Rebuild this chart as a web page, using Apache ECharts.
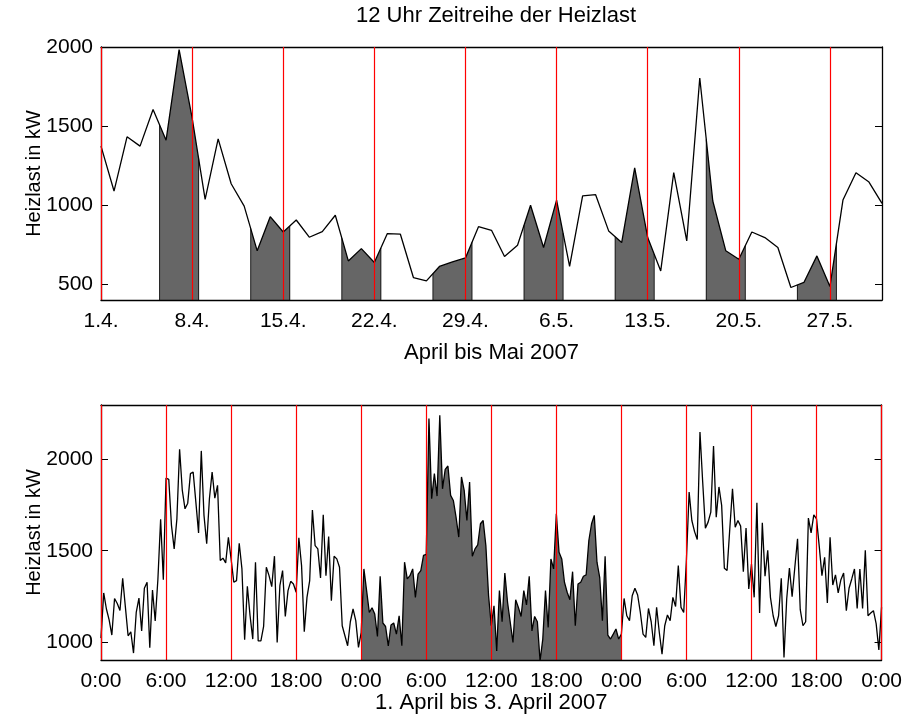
<!DOCTYPE html>
<html><head><meta charset="utf-8">
<script src="https://cdn.jsdelivr.net/npm/echarts@6/dist/echarts.min.js"></script>
<style>html,body{margin:0;padding:0;background:#fff}#c{width:905px;height:719px}</style>
</head><body><div id="c"></div>
<script>
// ---- data: top panel (daily value at 12:00, 1.4. - 31.5.2007) ----
const topTickLabels = ["1.4.","8.4.","15.4.","22.4.","29.4.","6.5.","13.5.","20.5.","27.5."];
const topValues = [1373,1089,1432,1373,1605,1411,1983,1552,1037,1419,1135,994,711,927,830,906,797,833,936,647,
  725,637,820,816,542,521,612,641,666,864,841,675,746,999,732,1032,612,1058,1066,837,
  763,1236,795,584,1205,774,1804,1026,711,658,830,795,732,479,511,679,485,1032,1205,1146,1011];
const topShadeRanges = [[4.5,7.5],[11.5,14.5],[18.5,21.5],[25.5,28.5],[32.5,35.5],[39.5,42.5],[46.5,49.5],[53.5,56.5]];
const topYTicks = [500,1000,1500,2000];

// ---- data: bottom panel (15-min values, 1.-3. April 2007) ----
const bottomTickLabels = ["0:00","6:00","12:00","18:00","0:00","6:00","12:00","18:00","0:00","6:00","12:00","18:00","0:00"];
const bottomValues = [1020,1268,1180,1120,1037,1238,1210,1172,1349,1190,1033,1055,938,1161,1240,1060,1294,1327,967,1284,
  1114,1345,1672,1341,1899,1892,1639,1510,1675,2057,1831,1730,1761,1923,1932,1767,1598,2048,1694,1538,
  1785,1932,1789,1859,1446,1459,1433,1574,1455,1327,1336,1541,1400,1011,1305,1143,1015,1437,1005,1005,
  1084,1409,1363,1303,1470,996,1308,1391,1139,1281,1332,1317,1272,1571,1418,1055,1244,1336,1723,1528,
  1510,1350,1697,1363,1578,1226,1470,1455,1409,1088,1033,978,1110,1180,1116,969,1050,1400,1281,1161,
  1187,1152,1029,1360,1103,1084,978,1092,1103,1042,1143,978,1437,1345,1363,1400,1244,1372,1391,1474,
  1480,2226,1785,1923,1800,2244,1840,1947,1965,1804,1776,1684,1575,1905,1831,1666,1877,1470,1510,1532,
  1648,1666,1528,1253,1088,1198,950,1281,1110,1378,1217,1107,996,1231,1189,1139,1281,1202,1360,1060,
  1139,1110,895,1015,1281,1079,1455,1400,1703,1492,1455,1327,1272,1231,1385,1088,1317,1327,1360,1367,
  1556,1648,1694,1437,1354,1116,1470,1037,1015,1042,1070,1015,1042,1238,1143,1116,1253,1294,1257,1161,
  1042,1024,1183,1110,978,1189,1051,932,1088,1147,1116,1244,1194,1418,1189,1161,1450,1822,1666,1605,
  1561,2152,1877,1624,1657,1712,2075,1684,1850,1749,1404,1391,1620,1840,1629,1666,1635,1385,1624,1290,
  1427,1244,1763,1158,1653,1360,1502,1244,1143,1084,1143,1349,914,1235,1405,1248,1409,1565,1176,1088,
  1110,1679,1598,1697,1675,1525,1363,1464,1213,1574,1312,1367,1268,1341,1378,1171,1294,1345,1400,1183,
  1400,1183,1502,1143,1158,1171,1100,955,1190];
const bottomStepHours = 0.25;
const bottomShadeRanges = [[24,48]];
const bottomYTicks = [1000,1500,2000];

const FONT = 'Liberation Sans';
const FS_TICK = 21;
const FS_NAME = 22;
const FS_YNAME = 20;
const chart = echarts.init(document.getElementById('c'));
const topData = topValues.map((v,i)=>[i,v]);
const bottomData = bottomValues.map((v,i)=>[i*bottomStepHours,v]);
const topEdges = [];
topShadeRanges.forEach(r=>{ topEdges.push([r[0]]); topEdges.push([r[1]]); });

const txt = fs => ({color:'#000', fontFamily:FONT, fontSize:fs});
// bottom x axis: its split lines (one per tick) are the red vertical markers
function xAx(grid, max, interval, labels, name, nameGap, showMax){
  return {gridIndex:grid, type:'value', min:0, max:max, interval:interval, z:11,
    axisLine:{show:true, onZero:false, lineStyle:{color:'#000', width:1.3}},
    axisTick:{show:false},
    splitLine:{show:true, showMinLine:true, showMaxLine:showMax, lineStyle:{color:'#ff0000', width:1.2, type:'solid'}},
    axisLabel:Object.assign({margin:11, formatter:v=>labels[Math.round(v/interval)]}, txt(FS_TICK)),
    name:name, nameLocation:'middle', nameGap:nameGap, nameMoveOverlap:false, nameTextStyle:txt(FS_NAME)};
}
function xTop(grid, max){
  return {gridIndex:grid, type:'value', position:'top', min:0, max:max, z:10,
    axisLine:{show:true, onZero:false, lineStyle:{color:'#000', width:1.3}},
    axisTick:{show:false}, axisLabel:{show:false}, splitLine:{show:false}};
}
function yAx(grid, min, max, ticks, pos, name){
  const o = {gridIndex:grid, type:'value', min:min, max:max, position:pos, z:10,
    axisLine:{show:true, onZero:false, lineStyle:{color:'#000', width:1.3}},
    axisTick:{show:true, inside:true, length:7, customValues:ticks, lineStyle:{color:'#000', width:1}},
    splitLine:{show:false},
    axisLabel:Object.assign({show:pos==='left', margin:8, customValues:ticks, formatter:v=>String(v)}, txt(FS_TICK))};
  if (name){ o.name=name; o.nameLocation='middle'; o.nameGap=57; o.nameMoveOverlap=false; o.nameTextStyle=txt(FS_YNAME); }
  return o;
}

// vertical outline of the shaded blocks, from the axis bottom up to the curve
function edgeRender(params, api){
  const b = api.value(0);
  const i = Math.min(Math.floor(b), topValues.length - 2);
  const p0 = api.coord([i, topValues[i]]);
  const p1 = api.coord([i + 1, topValues[i + 1]]);
  const t = b - i;
  const yTop = p0[1] + t * (p1[1] - p0[1]);
  const base = api.coord([b, 400]);
  return {type:'line', shape:{x1:base[0], y1:base[1], x2:base[0], y2:yTop},
    style:{stroke:'#1a1a1a', lineWidth:1}};
}

chart.setOption({
  animation:false,
  backgroundColor:'#fff',
  title:{text:'12 Uhr Zeitreihe der Heizlast', left:491, top:0, textAlign:'center',
    textStyle:{color:'#000', fontFamily:FONT, fontSize:FS_NAME, fontWeight:'normal'}},
  grid:[{left:101, top:47, width:781, height:253}, {left:101, top:405, width:781, height:255}],
  xAxis:[xAx(0,60,7,topTickLabels,'April bis Mai 2007',42,false), xTop(0,60),
         xAx(1,72,6,bottomTickLabels,'1. April bis 3. April 2007',32,true), xTop(1,72)],
  yAxis:[yAx(0,400,2000,topYTicks,'left','Heizlast in kW'), yAx(0,400,2000,topYTicks,'right'),
         yAx(1,900,2300,bottomYTicks,'left','Heizlast in kW'), yAx(1,900,2300,bottomYTicks,'right')],
  visualMap:[
    {type:'piecewise', show:false, dimension:0, seriesIndex:0,
     pieces:topShadeRanges.map(r=>({gte:r[0], lte:r[1], color:'#666666'})),
     outOfRange:{color:'rgba(255,255,255,0)'}},
    {type:'piecewise', show:false, dimension:0, seriesIndex:2,
     pieces:bottomShadeRanges.map(r=>({gte:r[0], lte:r[1], color:'#666666'})),
     outOfRange:{color:'rgba(255,255,255,0)'}}
  ],
  series:[
    {type:'line', xAxisIndex:0, yAxisIndex:0, data:topData, showSymbol:false, z:2, silent:true,
     lineStyle:{width:0}, areaStyle:{opacity:1, origin:'start'}},
    {type:'line', xAxisIndex:0, yAxisIndex:0, data:topData, showSymbol:false, z:3, silent:true,
     lineStyle:{color:'#000', width:1.3}, itemStyle:{color:'#000'}},
    {type:'line', xAxisIndex:2, yAxisIndex:2, data:bottomData, showSymbol:false, z:2, silent:true,
     lineStyle:{width:0}, areaStyle:{opacity:1, origin:'start'}},
    {type:'line', xAxisIndex:2, yAxisIndex:2, data:bottomData, showSymbol:false, z:3, silent:true,
     lineStyle:{color:'#000', width:1.3}, itemStyle:{color:'#000'}},
    {type:'custom', xAxisIndex:0, yAxisIndex:0, data:topEdges, z:2.5, silent:true,
     renderItem:edgeRender, clip:true}
  ]
});
</script></body></html>
